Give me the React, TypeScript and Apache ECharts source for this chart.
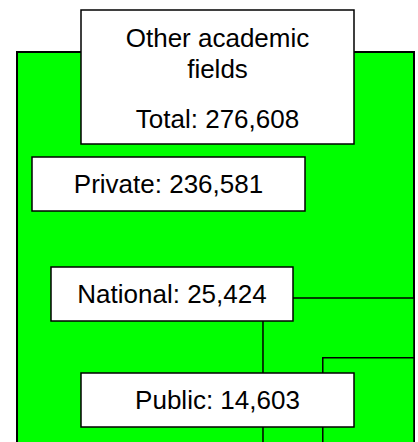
import React, { useEffect, useRef } from "react";
import * as echarts from "echarts";

const title = ["Other academic", "fields"];
const categories = ["Private", "National", "Public"];
const values = [236581, 25424, 14603];

const total = values.reduce((a, b) => a + b, 0);
// nested squares anchored at bottom-right: total, National+Public, Public
const nested = [total, values[1] + values[2], values[2]];
const S = Math.sqrt(total);

const fmt = (v: number) => v.toLocaleString("en-US");
const FONT = "'Liberation Sans', Arial, sans-serif";

function labelBox(x: number, y: number, w: number, h: number, lines: { t: string; y: number }[]) {
  return {
    type: "group",
    z: 100,
    children: [
      {
        type: "rect",
        z: 100,
        shape: { x, y, width: w, height: h },
        style: { fill: "#fff", stroke: "#000", lineWidth: 1.5 },
      },
      ...lines.map((l) => ({
        type: "text",
        z: 101,
        x: x + w / 2,
        y: l.y,
        style: {
          text: l.t,
          fontSize: 26,
          fontFamily: FONT,
          fill: "#000",
          align: "center",
          verticalAlign: "middle",
        },
      })),
    ],
  };
}

export default function App() {
  const ref = useRef<HTMLDivElement>(null);
  useEffect(() => {
    if (!ref.current) return;
    const chart = echarts.init(ref.current, undefined, { renderer: "svg" });
    chart.setOption({
      animation: false,
      backgroundColor: "#fff",
      grid: { left: 17, top: 52, width: 397, height: 397 },
      xAxis: { type: "value", min: 0, max: S, show: false },
      yAxis: { type: "value", min: 0, max: S, inverse: true, show: false },
      series: [
        {
          type: "custom",
          clip: false,
          z: 1,
          data: nested.map((v, i) => [v, i]),
          renderItem: (params: any, api: any) => {
            const v = api.value(0);
            const idx = api.value(1);
            const side = Math.sqrt(v);
            const p0 = api.coord([S - side, S - side]);
            const p1 = api.coord([S, S]);
            return {
              type: "rect",
              shape: { x: p0[0], y: p0[1], width: p1[0] - p0[0], height: p1[1] - p0[1] },
              style: { fill: "#00FF00", stroke: "#000", lineWidth: idx === 0 ? 2 : 1.5 },
            };
          },
        },
      ],
      graphic: [
        labelBox(81, 10, 273, 134, [
          { t: title[0], y: 38 },
          { t: title[1], y: 69 },
          { t: "Total: " + fmt(total), y: 119 },
        ]),
        labelBox(32, 157, 273, 54, [{ t: categories[0] + ": " + fmt(values[0]), y: 184 }]),
        labelBox(51, 267, 242, 54, [{ t: categories[1] + ": " + fmt(values[1]), y: 294 }]),
        labelBox(81, 373, 273, 54, [{ t: categories[2] + ": " + fmt(values[2]), y: 400 }]),
      ],
    });
    return () => chart.dispose();
  }, []);
  return (
    <div style={{ position: "fixed", left: 0, top: 0, width: 418, height: 442, overflow: "hidden", background: "#fff" }}>
      <div ref={ref} style={{ width: 418, height: 470 }} />
    </div>
  );
}
